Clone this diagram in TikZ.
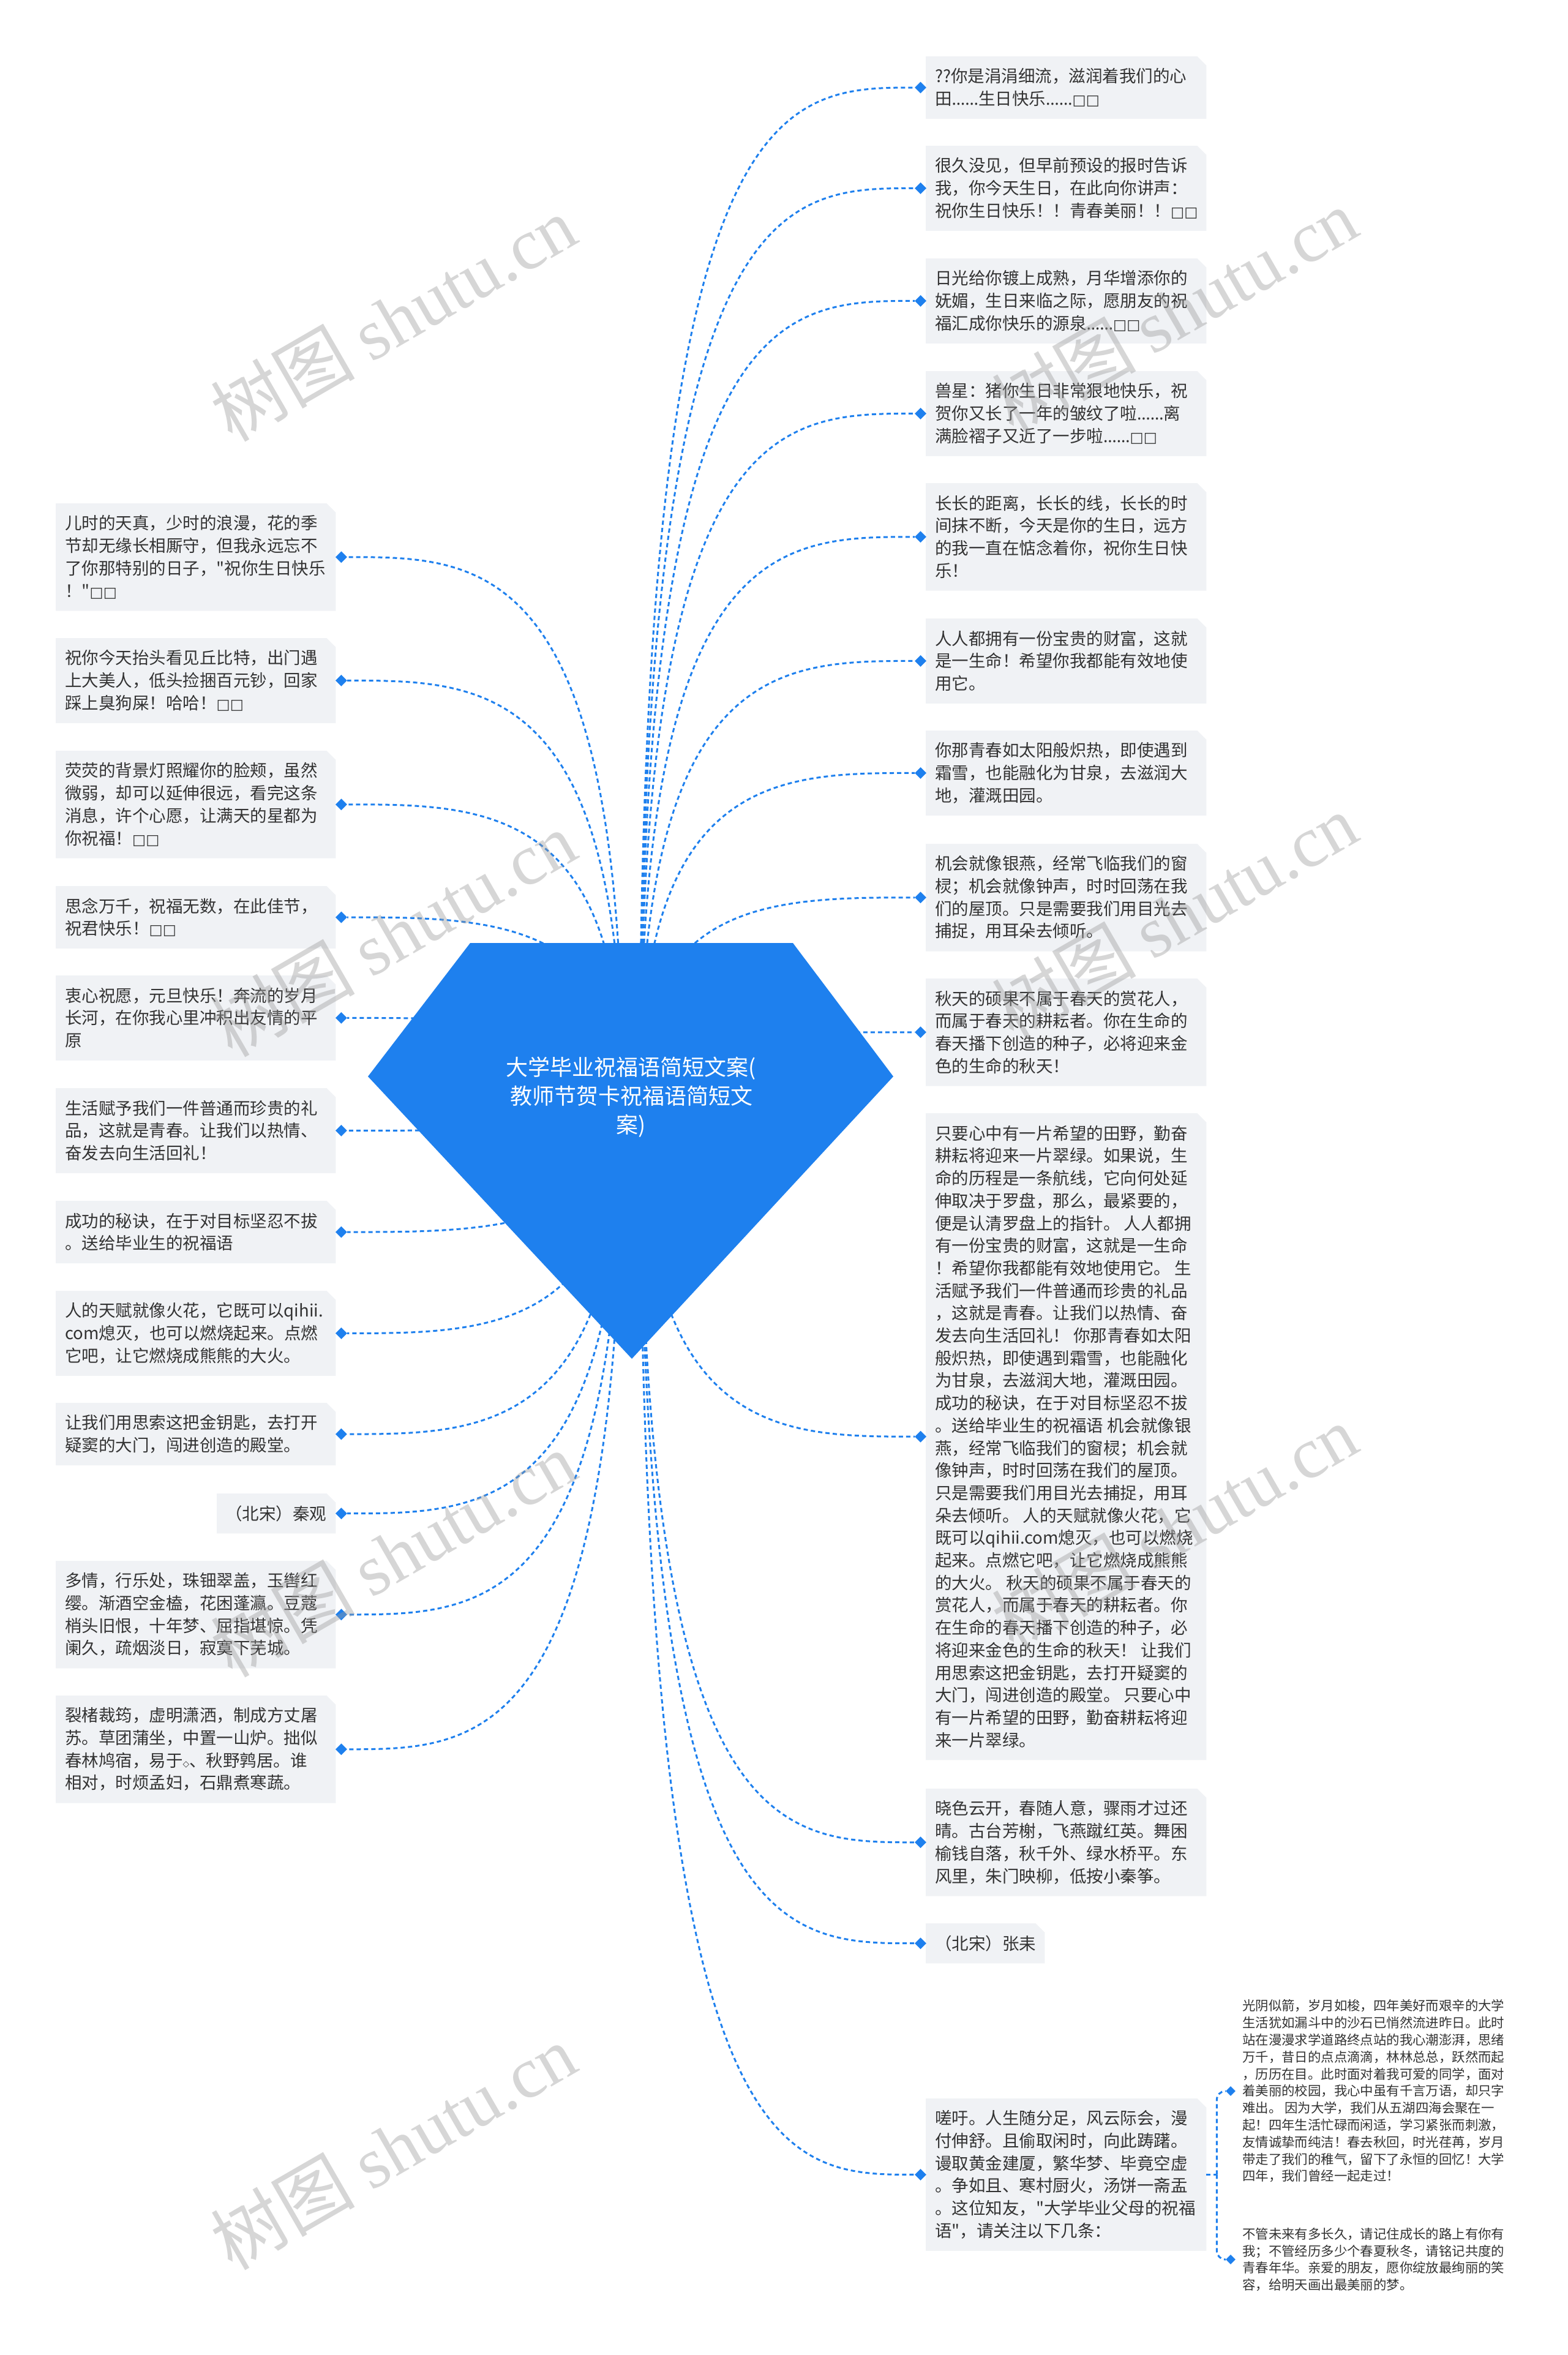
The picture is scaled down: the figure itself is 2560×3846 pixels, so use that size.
\documentclass[tikz,border=0pt]{standalone}
\usepackage{fontspec}
\setmainfont{Noto Sans CJK SC}[Ligatures=TeXOff]
\newfontfamily\serifwm{Liberation Serif}
\newfontfamily\latinf{Noto Sans}
\newfontfamily\dejavu[Scale=0.85]{DejaVu Sans}
\newfontfamily\dejavusm[Scale=0.5]{DejaVu Sans}
\usetikzlibrary{shapes.geometric,calc}
\pgfdeclarelayer{background}
\pgfsetlayers{background,main}
\definecolor{mainblue}{HTML}{1E80EE}
\definecolor{boxgray}{HTML}{F0F2F5}
\definecolor{txtgray}{HTML}{333333}
\definecolor{wmgray}{HTML}{9A9A9A}
\newcommand\tofuu{{\dejavu □□}}
\newcommand\elli{{\latinf ……}}
\newcommand\smdia{{\dejavusm ◇}}
\tikzset{
  conn/.style={draw=mainblue, line width=3pt, dash pattern=on 7pt off 5pt},
  dia/.style={diamond, fill=mainblue, inner sep=0pt, minimum size=19pt, aspect=1},
  smalldia/.style={diamond, fill=mainblue, inner sep=0pt, minimum size=16pt, aspect=1},
  boxnode/.style={rectangle, inner sep=0pt, anchor=north west, draw=none},
  txt/.style={inner sep=0pt, anchor=west, align=left, text=txtgray, font=\fontsize{27.5pt}{36.7pt}\selectfont},
  smalltxt/.style={inner sep=0pt, anchor=west, align=left, text=txtgray, font=\fontsize{21.4pt}{27.8pt}\selectfont},
  roottxt/.style={inner sep=0pt, align=center, text=white, font=\fontsize{36pt}{47pt}\selectfont},
  wm/.style={text=wmgray, opacity=0.4, rotate=30, font=\fontsize{118pt}{118pt}\selectfont, inner sep=0pt},
}
\newcommand\mkbox[5]{%
  \pgfmathsetmacro\bh{65+(#5-1)*36.7}%
  \node[boxnode, minimum width=#4pt, minimum height=\bh pt] (#1) at (#2,#3) {};
  \fill[boxgray] (#1.north west) -- ([xshift=-15pt]#1.north east) -- ([yshift=-15pt]#1.north east) -- (#1.south east) -- (#1.south west) -- cycle;
}
\newcommand\connect[2]{\draw[conn] (#1) .. controls (#1 |- #2) and ($(#1 |- #2)!0.5!(#2)$) .. (#2);}
\begin{document}
\begin{tikzpicture}[x=1pt,y=-1pt]
\useasboundingbox (0,0) rectangle (2560,3846);

% root
\node[roottxt] (root) at (1031,1792) {大学毕业祝福语简短文案(\\教师节贺卡祝福语简短文\\案)};
\coordinate (sR) at ([xshift=14pt]root.center);
\coordinate (sL) at ([xshift=-14pt]root.center);

% right boxes
\mkbox{r1}{1512}{92}{458}{2}
\node[txt] (r1t) at ([xshift=15pt]r1.west) {??你是涓涓细流，滋润着我们的心\\田\elli 生日快乐\elli\tofuu};
\mkbox{r2}{1512}{238}{458}{3}
\node[txt] (r2t) at ([xshift=15pt]r2.west) {很久没见，但早前预设的报时告诉\\我，你今天生日，在此向你讲声：\\祝你生日快乐！！青春美丽！！\tofuu};
\mkbox{r3}{1512}{422}{458}{3}
\node[txt] (r3t) at ([xshift=15pt]r3.west) {日光给你镀上成熟，月华增添你的\\妩媚，生日来临之际，愿朋友的祝\\福汇成你快乐的源泉\elli\tofuu};
\mkbox{r4}{1512}{606}{458}{3}
\node[txt] (r4t) at ([xshift=15pt]r4.west) {兽星：猪你生日非常狠地快乐，祝\\贺你又长了一年的皱纹了啦\elli 离\\满脸褶子又近了一步啦\elli\tofuu};
\mkbox{r5}{1512}{789}{458}{4}
\node[txt] (r5t) at ([xshift=15pt]r5.west) {长长的距离，长长的线，长长的时\\间抹不断，今天是你的生日，远方\\的我一直在惦念着你，祝你生日快\\乐！};
\mkbox{r6}{1512}{1010}{458}{3}
\node[txt] (r6t) at ([xshift=15pt]r6.west) {人人都拥有一份宝贵的财富，这就\\是一生命！希望你我都能有效地使\\用它。};
\mkbox{r7}{1512}{1193}{458}{3}
\node[txt] (r7t) at ([xshift=15pt]r7.west) {你那青春如太阳般炽热，即使遇到\\霜雪，也能融化为甘泉，去滋润大\\地，灌溉田园。};
\mkbox{r8}{1512}{1378}{458}{4}
\node[txt] (r8t) at ([xshift=15pt]r8.west) {机会就像银燕，经常飞临我们的窗\\棂；机会就像钟声，时时回荡在我\\们的屋顶。只是需要我们用目光去\\捕捉，用耳朵去倾听。};
\mkbox{r9}{1512}{1598}{458}{4}
\node[txt] (r9t) at ([xshift=15pt]r9.west) {秋天的硕果不属于春天的赏花人，\\而属于春天的耕耘者。你在生命的\\春天播下创造的种子，必将迎来金\\色的生命的秋天！};
\mkbox{r10}{1512}{1818}{458}{28}
\node[txt] (r10t) at ([xshift=15pt]r10.west) {只要心中有一片希望的田野，勤奋\\耕耘将迎来一片翠绿。如果说，生\\命的历程是一条航线，它向何处延\\伸取决于罗盘，那么，最紧要的，\\便是认清罗盘上的指针。 人人都拥\\有一份宝贵的财富，这就是一生命\\！希望你我都能有效地使用它。 生\\活赋予我们一件普通而珍贵的礼品\\，这就是青春。让我们以热情、奋\\发去向生活回礼！ 你那青春如太阳\\般炽热，即使遇到霜雪，也能融化\\为甘泉，去滋润大地，灌溉田园。\\成功的秘诀，在于对目标坚忍不拔\\。送给毕业生的祝福语 机会就像银\\燕，经常飞临我们的窗棂；机会就\\像钟声，时时回荡在我们的屋顶。\\只是需要我们用目光去捕捉，用耳\\朵去倾听。 人的天赋就像火花，它\\既可以qihii.com熄灭，也可以燃烧\\起来。点燃它吧，让它燃烧成熊熊\\的大火。 秋天的硕果不属于春天的\\赏花人，而属于春天的耕耘者。你\\在生命的春天播下创造的种子，必\\将迎来金色的生命的秋天！ 让我们\\用思索这把金钥匙，去打开疑窦的\\大门，闯进创造的殿堂。 只要心中\\有一片希望的田野，勤奋耕耘将迎\\来一片翠绿。};
\mkbox{r11}{1512}{2921}{458}{4}
\node[txt] (r11t) at ([xshift=15pt]r11.west) {晓色云开，春随人意，骤雨才过还\\晴。古台芳榭，飞燕蹴红英。舞困\\榆钱自落，秋千外、绿水桥平。东\\风里，朱门映柳，低按小秦筝。};
\mkbox{r12}{1512}{3141}{194}{1}
\node[txt] (r12t) at ([xshift=15pt]r12.west) {（北宋）张耒};
\mkbox{r13}{1512}{3427}{458}{6}
\node[txt] (r13t) at ([xshift=15pt]r13.west) {嗟吁。人生随分足，风云际会，漫\\付伸舒。且偷取闲时，向此踌躇。\\谩取黄金建厦，繁华梦、毕竟空虚\\。争如且、寒村厨火，汤饼一斋盂\\。这位知友，"大学毕业父母的祝福\\语"，请关注以下几条：};

\foreach \n in {r1,r2,r3,r4,r5,r6,r7,r8,r9,r10,r11,r12,r13}{
  \node[dia] (\n d) at ([xshift=-8.5pt]\n.west) {};
}

% left boxes
\mkbox{l1}{91}{822}{457}{4}
\node[txt] (l1t) at ([xshift=15pt]l1.west) {儿时的天真，少时的浪漫，花的季\\节却无缘长相厮守，但我永远忘不\\了你那特别的日子，"祝你生日快乐\\！"\tofuu};
\mkbox{l2}{91}{1042}{457}{3}
\node[txt] (l2t) at ([xshift=15pt]l2.west) {祝你今天抬头看见丘比特，出门遇\\上大美人，低头捡捆百元钞，回家\\踩上臭狗屎！哈哈！\tofuu};
\mkbox{l3}{91}{1226}{457}{4}
\node[txt] (l3t) at ([xshift=15pt]l3.west) {荧荧的背景灯照耀你的脸颊，虽然\\微弱，却可以延伸很远，看完这条\\消息，许个心愿，让满天的星都为\\你祝福！\tofuu};
\mkbox{l4}{91}{1447}{457}{2}
\node[txt] (l4t) at ([xshift=15pt]l4.west) {思念万千，祝福无数，在此佳节，\\祝君快乐！\tofuu};
\mkbox{l5}{91}{1593}{457}{3}
\node[txt] (l5t) at ([xshift=15pt]l5.west) {衷心祝愿，元旦快乐！奔流的岁月\\长河，在你我心里冲积出友情的平\\原};
\mkbox{l6}{91}{1777}{457}{3}
\node[txt] (l6t) at ([xshift=15pt]l6.west) {生活赋予我们一件普通而珍贵的礼\\品，这就是青春。让我们以热情、\\奋发去向生活回礼！};
\mkbox{l7}{91}{1961}{457}{2}
\node[txt] (l7t) at ([xshift=15pt]l7.west) {成功的秘诀，在于对目标坚忍不拔\\。送给毕业生的祝福语};
\mkbox{l8}{91}{2108}{457}{3}
\node[txt] (l8t) at ([xshift=15pt]l8.west) {人的天赋就像火花，它既可以qihii.\\com熄灭，也可以燃烧起来。点燃\\它吧，让它燃烧成熊熊的大火。};
\mkbox{l9}{91}{2291}{457}{2}
\node[txt] (l9t) at ([xshift=15pt]l9.west) {让我们用思索这把金钥匙，去打开\\疑窦的大门，闯进创造的殿堂。};
\mkbox{l10}{354}{2439}{194}{1}
\node[txt, anchor=east] (l10t) at ([xshift=-15pt]l10.east) {（北宋）秦观};
\mkbox{l11}{91}{2549}{457}{4}
\node[txt] (l11t) at ([xshift=15pt]l11.west) {多情，行乐处，珠钿翠盖，玉辔红\\缨。渐酒空金榼，花困蓬瀛。豆蔻\\梢头旧恨，十年梦、屈指堪惊。凭\\阑久，疏烟淡日，寂寞下芜城。};
\mkbox{l12}{91}{2769}{457}{4}
\node[txt] (l12t) at ([xshift=15pt]l12.west) {裂楮裁筠，虚明潇洒，制成方丈屠\\苏。草团蒲坐，中置一山炉。拙似\\春林鸠宿，易于\smdia、秋野鹑居。谁\\相对，时烦孟妇，石鼎煮寒蔬。};

\foreach \n in {l1,l2,l3,l4,l5,l6,l7,l8,l9,l10,l11,l12}{
  \node[dia] (\n d) at ([xshift=9pt]\n.east) {};
}

% small texts (children of r13)
\node[smalltxt] (s1) at (2029,3415) {光阴似箭，岁月如梭，四年美好而艰辛的大学\\生活犹如漏斗中的沙石已悄然流进昨日。此时\\站在漫漫求学道路终点站的我心潮澎湃，思绪\\万千，昔日的点点滴滴，林林总总，跃然而起\\，历历在目。此时面对着我可爱的同学，面对\\着美丽的校园，我心中虽有千言万语，却只字\\难出。 因为大学，我们从五湖四海会聚在一\\起！四年生活忙碌而闲适，学习紧张而刺激，\\友情诚挚而纯洁！春去秋回，时光荏苒，岁月\\带走了我们的稚气，留下了永恒的回忆！大学\\四年，我们曾经一起走过！};
\node[smalltxt] (s2) at (2029,3690) {不管未来有多长久，请记住成长的路上有你有\\我；不管经历多少个春夏秋冬，请铭记共度的\\青春年华。亲爱的朋友，愿你绽放最绚丽的笑\\容，给明天画出最美丽的梦。};
\node[smalldia] (s1d) at ([xshift=-19pt]s1.west) {};
\node[smalldia] (s2d) at ([xshift=-19pt]s2.west) {};

\begin{pgfonlayer}{background}
  \fill[white] (0,0) rectangle (2560,3846);
  \foreach \n in {r1,r2,r3,r4,r5,r6,r7,r8,r9,r10,r11,r12,r13}{\connect{sR}{\n d}}
  \foreach \n in {l1,l2,l3,l4,l5,l6,l7,l8,l9,l10,l11,l12}{\connect{sL}{\n d}}
  \fill[mainblue] (768,1540) -- (1295,1540) -- (1459,1758) -- (1032,2219) -- (601,1758) -- cycle;
\end{pgfonlayer}

% bracket from r13 to its children
\coordinate (br) at ([xshift=17pt]r13.east);
\draw[conn] (r13.east) -- (br);
\draw[conn, rounded corners=14pt] (br) |- (s1d);
\draw[conn, rounded corners=14pt] (br) |- (s2d);

% watermarks
\node[wm] (wm1) at (642,520) {树图 {\serifwm shutu.cn}};
\node[wm] (wm2) at (1918,508) {树图 {\serifwm shutu.cn}};
\node[wm] (wm3) at (642,1525) {树图 {\serifwm shutu.cn}};
\node[wm] (wm4) at (1918,1496) {树图 {\serifwm shutu.cn}};
\node[wm] (wm5) at (642,2538) {树图 {\serifwm shutu.cn}};
\node[wm] (wm6) at (1918,2494) {树图 {\serifwm shutu.cn}};
\node[wm] (wm7) at (642,3506) {树图 {\serifwm shutu.cn}};
\end{tikzpicture}
\end{document}
